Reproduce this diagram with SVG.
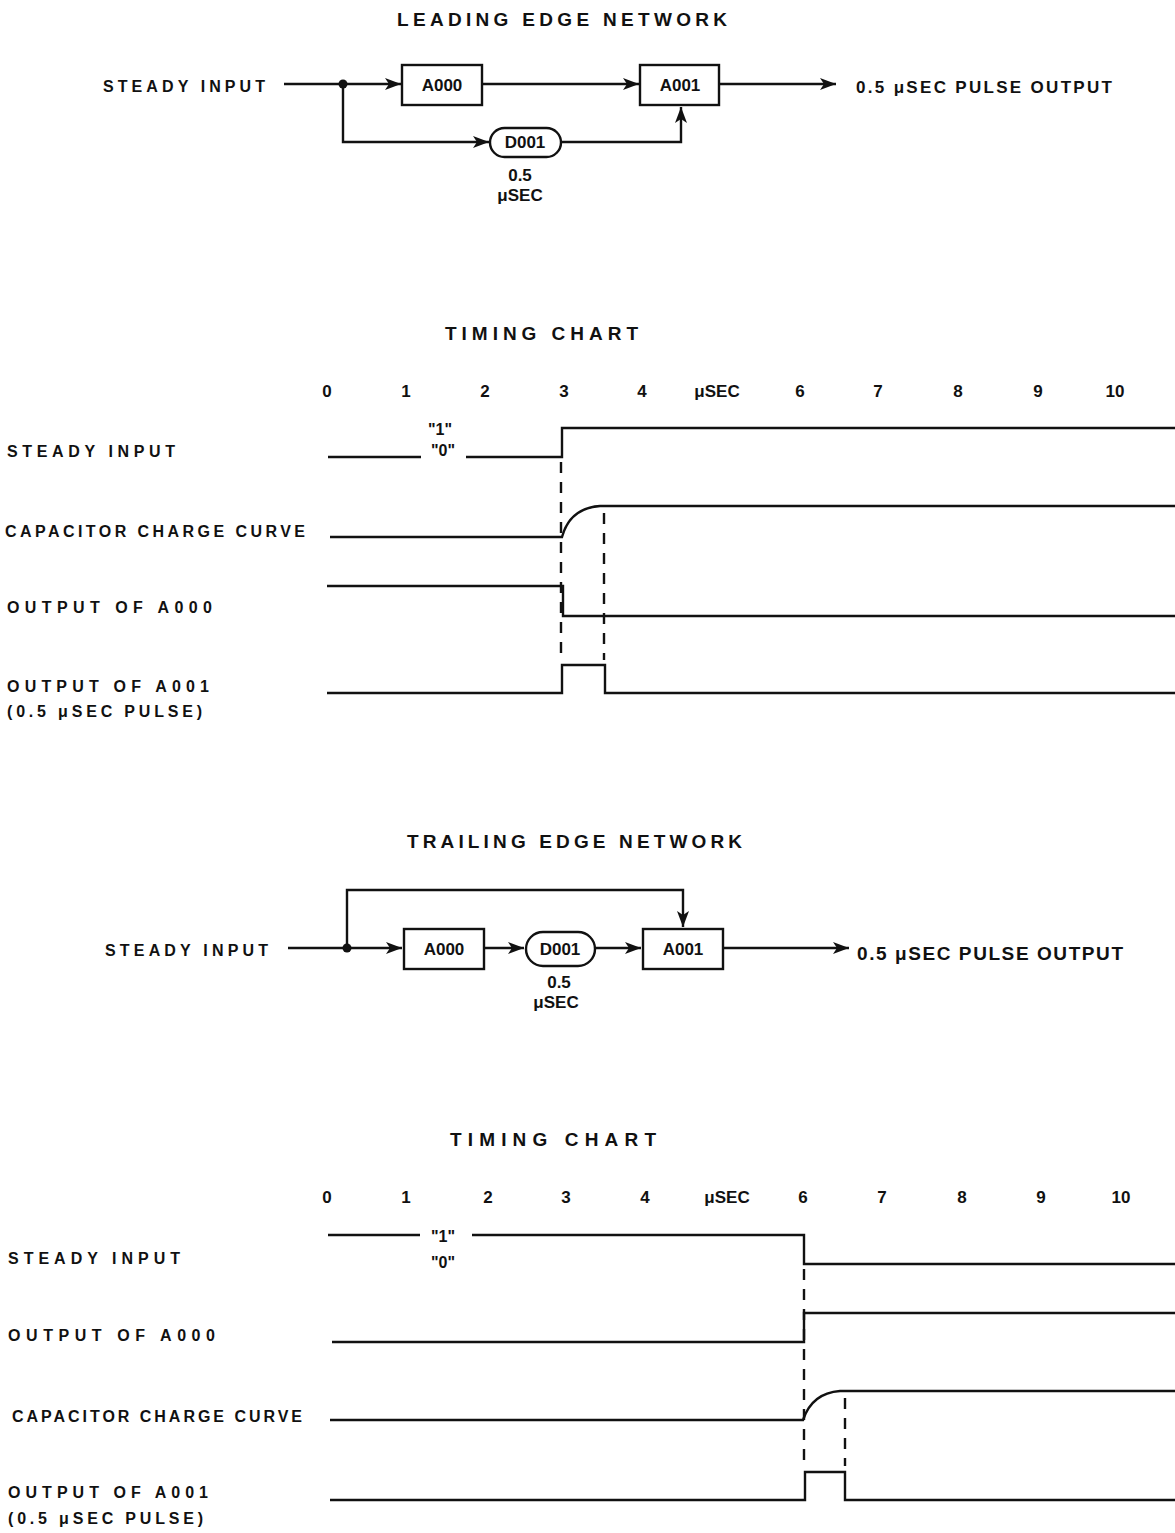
<svg xmlns="http://www.w3.org/2000/svg" width="1175" height="1533" viewBox="0 0 1175 1533">
<style>
.t{font-family:"Liberation Sans",Arial,sans-serif;font-weight:bold;font-size:16px;fill:#111}
.h{font-size:19px}
.b{font-size:17px}
.c{text-anchor:middle}
.w{stroke:#111;stroke-width:2.4;fill:none}
.d{stroke:#111;stroke-width:2.4;fill:none;stroke-dasharray:11 9}
.box{stroke:#111;stroke-width:2.4;fill:#fff}
</style>
<defs>
<marker id="ar" markerUnits="userSpaceOnUse" markerWidth="18" markerHeight="14" refX="16" refY="7" orient="auto">
<path d="M0,1 L16,7 L0,13 L4,7 Z" fill="#111"/>
</marker>
</defs>
<rect width="1175" height="1533" fill="#fff"/>

<!-- LEADING EDGE NETWORK -->
<text class="t h" x="397" y="26" textLength="330" lengthAdjust="spacing">LEADING EDGE NETWORK</text>
<text class="t" x="103" y="92" textLength="162" lengthAdjust="spacing">STEADY INPUT</text>
<text class="t b" x="856" y="93" textLength="256" lengthAdjust="spacing">0.5 μSEC PULSE OUTPUT</text>

<g id="connectors-top">
<path class="w" d="M284,84 H401" marker-end="url(#ar)"/>
<path class="w" d="M343,84 V142 H489" marker-end="url(#ar)"/>
<path class="w" d="M482,84 H639" marker-end="url(#ar)"/>
<path class="w" d="M561,142 H681 V107" marker-end="url(#ar)"/>
<path class="w" d="M719,84 H836" marker-end="url(#ar)"/>
<circle cx="343" cy="84" r="4.5" fill="#111"/>
</g>
<g id="top-A000">
<rect class="box" x="402" y="65" width="80" height="40"/>
<text class="t b c" x="442" y="91">A000</text>
</g>
<g id="top-A001">
<rect class="box" x="640" y="65" width="79" height="40"/>
<text class="t b c" x="680" y="91">A001</text>
</g>
<g id="top-D001">
<rect class="box" x="490" y="128" width="71" height="29" rx="14.5"/>
<text class="t b c" x="525" y="148">D001</text>
<text class="t b c" x="520" y="181">0.5</text>
<text class="t b c" x="520" y="201">μSEC</text>
</g>

<!-- TIMING CHART 1 -->
<text class="t h" x="445" y="340" textLength="193" lengthAdjust="spacing">TIMING CHART</text>
<g id="axis1">
<text class="t b c" x="327" y="397">0</text>
<text class="t b c" x="406" y="397">1</text>
<text class="t b c" x="485" y="397">2</text>
<text class="t b c" x="564" y="397">3</text>
<text class="t b c" x="642" y="397">4</text>
<text class="t b c" x="717" y="397">μSEC</text>
<text class="t b c" x="800" y="397">6</text>
<text class="t b c" x="878" y="397">7</text>
<text class="t b c" x="958" y="397">8</text>
<text class="t b c" x="1038" y="397">9</text>
<text class="t b c" x="1115" y="397">10</text>
</g>
<text class="t" x="7" y="457" textLength="168" lengthAdjust="spacing">STEADY INPUT</text>
<text class="t" x="5" y="537" textLength="300" lengthAdjust="spacing">CAPACITOR CHARGE CURVE</text>
<text class="t" x="7" y="613" textLength="205" lengthAdjust="spacing">OUTPUT OF A000</text>
<text class="t" x="7" y="692" textLength="202" lengthAdjust="spacing">OUTPUT OF A001</text>
<text class="t" x="7" y="717" textLength="195" lengthAdjust="spacing">(0.5 μSEC PULSE)</text>
<text class="t c" x="440" y="435">"1"</text>
<text class="t c" x="443" y="456">"0"</text>
<g id="waves1">
<path class="w" d="M328,457 H421 M466,457 H562 V428 H1175"/>
<path class="w" d="M330,537 H562 Q570,508 600,506 H1175"/>
<path class="w" d="M327,586 H563 V616 H1175"/>
<path class="w" d="M327,693 H562 V665 H605 V693 H1175"/>
<path class="d" d="M561,462 V660"/>
<path class="d" d="M604,513 V660"/>
</g>

<!-- TRAILING EDGE NETWORK -->
<text class="t h" x="407" y="848" textLength="335" lengthAdjust="spacing">TRAILING EDGE NETWORK</text>
<text class="t" x="105" y="956" textLength="163" lengthAdjust="spacing">STEADY INPUT</text>
<text class="t h" x="857" y="960" textLength="266" lengthAdjust="spacing">0.5 μSEC PULSE OUTPUT</text>
<g id="connectors-trail">
<path class="w" d="M288,948 H402" marker-end="url(#ar)"/>
<path class="w" d="M347,948 V890 H683 V927" marker-end="url(#ar)"/>
<path class="w" d="M484,948 H524" marker-end="url(#ar)"/>
<path class="w" d="M595,948 H641" marker-end="url(#ar)"/>
<path class="w" d="M723,948 H849" marker-end="url(#ar)"/>
<circle cx="347" cy="948" r="4.5" fill="#111"/>
</g>
<g id="trail-A000">
<rect class="box" x="404" y="929" width="80" height="40"/>
<text class="t b c" x="444" y="955">A000</text>
</g>
<g id="trail-D001">
<rect class="box" x="526" y="932" width="69" height="34" rx="17"/>
<text class="t b c" x="560" y="955">D001</text>
<text class="t b c" x="559" y="988">0.5</text>
<text class="t b c" x="556" y="1008">μSEC</text>
</g>
<g id="trail-A001">
<rect class="box" x="643" y="929" width="80" height="40"/>
<text class="t b c" x="683" y="955">A001</text>
</g>

<!-- TIMING CHART 2 -->
<text class="t h" x="450" y="1146" textLength="206" lengthAdjust="spacing">TIMING CHART</text>
<g id="axis2">
<text class="t b c" x="327" y="1203">0</text>
<text class="t b c" x="406" y="1203">1</text>
<text class="t b c" x="488" y="1203">2</text>
<text class="t b c" x="566" y="1203">3</text>
<text class="t b c" x="645" y="1203">4</text>
<text class="t b c" x="727" y="1203">μSEC</text>
<text class="t b c" x="803" y="1203">6</text>
<text class="t b c" x="882" y="1203">7</text>
<text class="t b c" x="962" y="1203">8</text>
<text class="t b c" x="1041" y="1203">9</text>
<text class="t b c" x="1121" y="1203">10</text>
</g>
<text class="t" x="8" y="1264" textLength="172" lengthAdjust="spacing">STEADY INPUT</text>
<text class="t" x="8" y="1341" textLength="207" lengthAdjust="spacing">OUTPUT OF A000</text>
<text class="t" x="12" y="1422" textLength="290" lengthAdjust="spacing">CAPACITOR CHARGE CURVE</text>
<text class="t" x="8" y="1498" textLength="200" lengthAdjust="spacing">OUTPUT OF A001</text>
<text class="t" x="8" y="1524" textLength="195" lengthAdjust="spacing">(0.5 μSEC PULSE)</text>
<text class="t c" x="443" y="1242">"1"</text>
<text class="t c" x="443" y="1268">"0"</text>
<g id="waves2">
<path class="w" d="M328,1235 H420 M472,1235 H804 V1264 H1175"/>
<path class="w" d="M332,1342 H804 V1313 H1175"/>
<path class="w" d="M330,1420 H803 Q812,1393 840,1391 H1175"/>
<path class="w" d="M330,1500 H805 V1472 H845 V1500 H1175"/>
<path class="d" d="M804,1269 V1468"/>
<path class="d" d="M845,1398 V1466"/>
</g>
</svg>
